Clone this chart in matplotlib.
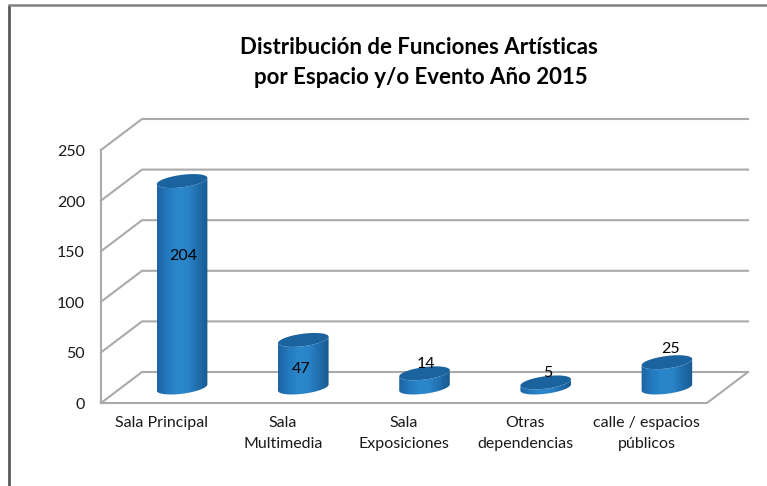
import numpy as np
import matplotlib
matplotlib.use("Agg")
import matplotlib.pyplot as plt
from matplotlib.colors import LinearSegmentedColormap
from matplotlib.patches import PathPatch
from matplotlib.path import Path

plt.rcParams['font.family'] = ['Lato', 'DejaVu Sans']

categories = ["Sala Principal", "Sala\nMultimedia", "Sala\nExposiciones",
              "Otras\ndependencias", "calle / espacios\npúblicos"]
values = [204, 47, 14, 5, 25]
y_ticks = [0, 50, 100, 150, 200, 250]
title_lines = ["Distribución de Funciones Artísticas", "por Espacio y/o Evento Año 2015"]

# hand placed data labels, px from the centre of each bar top
label_dx = [1.5, -2, 2, 2.5, 4]
label_dy = [-75, -29, 9, 9.5, 13]

W, H = 767, 486
GRID = "#aaaaaa"

fig = plt.figure(figsize=(W / 100, H / 100), dpi=100)

# page frame, only left and top show in the picture
frame = fig.add_axes([0, 0, 1, 1])
frame.set_xlim(0, W)
frame.set_ylim(H, 0)
frame.axis("off")
frame.plot([8.5, 8.5], [5, H], color="#5a5a5a", lw=2, solid_capstyle="butt")
frame.plot([8, W], [5.5, 5.5], color="#808080", lw=1.8, solid_capstyle="butt")

# front plane of the 3d box: x 101-707, y 403-150 px
L, R, B, T = 101, 707, 403, 150
ax = fig.add_axes([L / W, 1 - B / H, (R - L) / W, (B - T) / H])
ax.set_xlim(-0.5, 4.5)
ax.set_ylim(0, 250)
ax.patch.set_alpha(0)
ax.axis("off")

px_x = (R - L) / 5
px_y = (B - T) / 250
depth_x = 41 / px_x
depth_y = 31 / px_y
xl, xr = -0.5, 4.5

# walls and floor
for v in y_ticks:
    ax.plot([xl, xl + depth_x, xr + depth_x], [v, v + depth_y, v + depth_y],
            color=GRID, lw=1.5, clip_on=False, solid_joinstyle="miter", zorder=1)
ax.plot([xl, xl], [0, 250], color=GRID, lw=1.5, clip_on=False, zorder=1)
ax.plot([xl, xr, xr + depth_x], [0, 0, depth_y], color=GRID, lw=1.5,
        clip_on=False, solid_joinstyle="miter", zorder=1)

# tilted ellipse, sizes in px then back to data units
a, b = 25.5, 6.2
theta = np.radians(7.5)


def ellipse_xy(xc, yc, t):
    dx = a * np.cos(t) * np.cos(theta) - b * np.sin(t) * np.sin(theta)
    dy = a * np.cos(t) * np.sin(theta) + b * np.sin(t) * np.cos(theta)
    return xc + dx / px_x, yc + dy / px_y


body_cmap = LinearSegmentedColormap.from_list(
    "body", ["#1c64a3", "#2379bd", "#2b87cb", "#2a84c8", "#206fae", "#185a90"])
t_back = np.linspace(0, 2 * np.pi, 120)
t_low = np.linspace(np.pi, 2 * np.pi, 60)

for i, v in enumerate(values):
    xc = i + depth_x / 2
    y0 = depth_y / 2
    y1 = y0 + v

    # body: lower half of base ellipse, then top ellipse outline
    x_low, y_low = ellipse_xy(xc, y0, t_low)
    x_up, y_up = ellipse_xy(xc, y1, t_low[::-1])
    verts = np.column_stack([np.r_[x_low, x_up], np.r_[y_low, y_up]])
    clip = PathPatch(Path(np.vstack([verts, verts[0]]), closed=True),
                     transform=ax.transData, fc="none", ec="none")
    ax.add_patch(clip)
    x0 = xc - a / px_x
    x1 = xc + a / px_x
    im = ax.imshow(np.linspace(0, 1, 100).reshape(1, -1), cmap=body_cmap,
                   extent=[x0, x1, y0 - 12, y1 + 12], aspect="auto", zorder=3)
    im.set_clip_path(clip)

    # top cap
    x_top, y_top = ellipse_xy(xc, y1, t_back)
    ax.fill(x_top, y_top, color="#1b639f", lw=0, zorder=4, clip_on=False)

    # value label
    ax.text(xc + label_dx[i] / px_x, y1 + label_dy[i] / px_y, str(v), ha="center",
            va="center", fontsize=11.5, color="black", zorder=5, clip_on=False)

ax.set_xlim(-0.5, 4.5)
ax.set_ylim(0, 250)

# axis labels
for v in y_ticks:
    ax.text(xl - 16 / px_x, v - 2, str(v), ha="right", va="center", fontsize=11.5,
            color="#1a1a1a", clip_on=False)
for i, c in enumerate(categories):
    ax.text(i, -13, c, ha="center", va="top", fontsize=11.5,
            color="#1a1a1a", linespacing=1.6, clip_on=False)

frame.text(419, 48, title_lines[0], ha="center", va="center", fontsize=16,
           fontweight="bold", color="black")
frame.text(421, 78, title_lines[1], ha="center", va="center", fontsize=16,
           fontweight="bold", color="black")

fig.savefig("out.png", dpi=100, facecolor="white")
